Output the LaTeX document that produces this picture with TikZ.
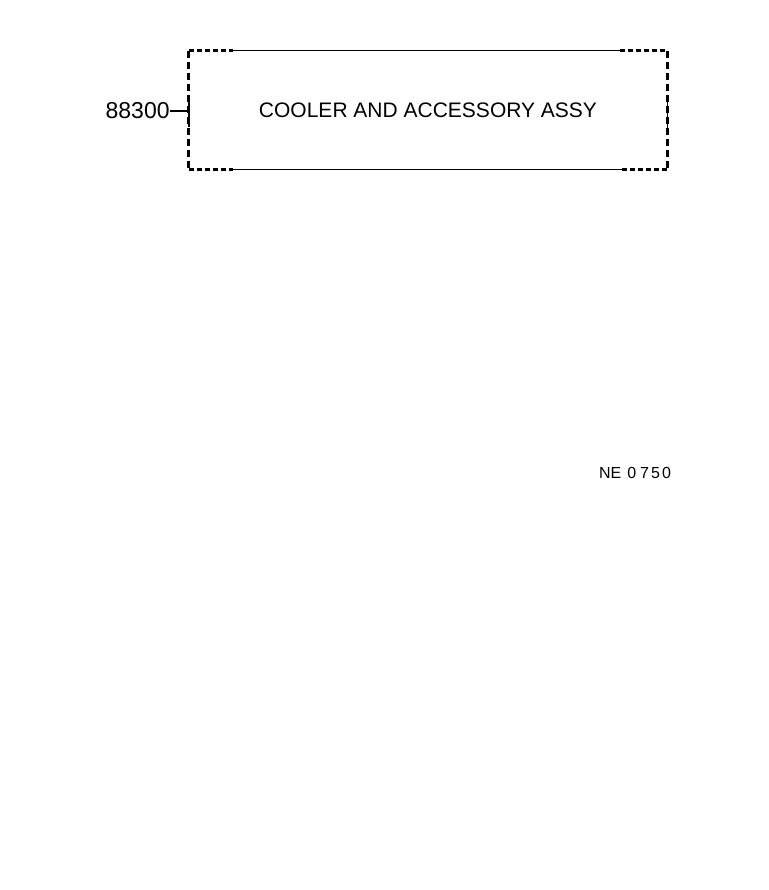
\documentclass[tikz,border=0pt]{standalone}
\usepackage{fontspec}
\setmainfont{Liberation Sans}
\usetikzlibrary{positioning}

\begin{document}
\begin{tikzpicture}[x=1pt, y=-1pt,
    side dash/.style={line width=3.2pt, dash pattern=on 7pt off 4pt},
    edge dash/.style={line width=2.8pt, dash pattern=on 5pt off 3pt},
    thin rule/.style={line width=1.1pt},
    label text/.style={inner sep=0pt, font=\fontsize{21}{24}\selectfont}]
    \useasboundingbox (0,0) rectangle (768,890);

    % Assembly box
    \node [label text, minimum width=478pt, minimum height=118pt] (Assy)
    at (428,110) {COOLER AND ACCESSORY ASSY};%
    \draw [side dash] (Assy.north west) -- (Assy.south west);%
    \draw [side dash] (Assy.north east) -- (Assy.south east);%
    \draw [edge dash] (Assy.north west) -- ([xshift=44pt]Assy.north west);%
    \draw [thin rule] ([xshift=44pt]Assy.north west) --
    ([xshift=-47pt]Assy.north east);%
    \draw [edge dash] ([xshift=-47pt]Assy.north east) -- (Assy.north east);%
    \draw [edge dash] (Assy.south west) -- ([xshift=44pt]Assy.south west);%
    \draw [thin rule] ([xshift=44pt]Assy.south west) --
    ([xshift=-45pt]Assy.south east);%
    \draw [edge dash] ([xshift=-45pt]Assy.south east) -- (Assy.south east);%
    \draw [line width=2pt] ([yshift=-17pt]Assy.west) -- ([yshift=13pt]Assy.west);%
    \draw [line width=1pt] ([yshift=-18pt]Assy.east) -- ([yshift=13pt]Assy.east);%

    % Part number
    \node [label text, font=\fontsize{23}{26}\selectfont, left=19pt of Assy.west,
    yshift=-1pt] (Num) {88300};%
    \draw [line width=1.4pt] (Num.east) -- ([yshift=-1pt]Assy.west);%

    % Drawing number
    \node [label text, font=\fontsize{16}{19}\selectfont] (Dwg) at (635,473)
    {NE\hspace{6pt}0\hspace{4pt}7\hspace{2pt}5\hspace{2pt}0};%
\end{tikzpicture}
\end{document}
